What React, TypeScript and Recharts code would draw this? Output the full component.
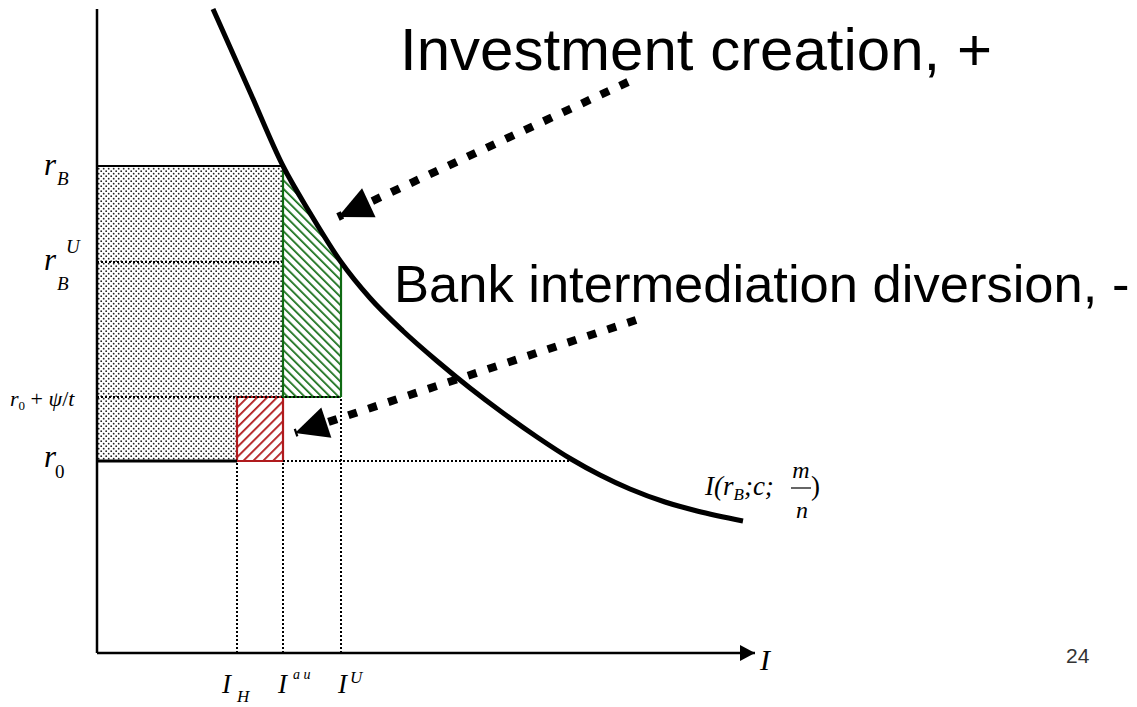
import { ComposedChart, XAxis, YAxis, Line, Area, ReferenceArea, ReferenceLine, ReferenceDot } from 'recharts';

// Investment schedule I(r_B; c; m/n) (I across, r up)
const curvePoints = [
  { I: 116, r: 644 }, { I: 153, r: 561 }, { I: 186, r: 487 }, { I: 213, r: 440 },
  { I: 244, r: 391 }, { I: 273, r: 355 }, { I: 306, r: 322 }, { I: 340, r: 292 },
  { I: 373, r: 265 }, { I: 406, r: 240 }, { I: 440, r: 216 }, { I: 474, r: 194 },
  { I: 503, r: 178 }, { I: 533, r: 164 }, { I: 568, r: 151 }, { I: 600, r: 142 },
  { I: 646, r: 132 },
];

// Rate levels on the vertical axis
const rateTicks = [192, 256, 391, 487];
const rateNames = ['r0', 'r0+psi/t', 'rBU', 'rB'];

// Investment levels on the horizontal axis
const investTicks = [140, 186, 244];
const investNames = ['IH', 'Iau', 'IU'];

// Green wedge: between r0 + psi/t and the curve, from I^au to I^U
const creationZone = [
  { I: 186, lo: 256, hi: 487 },
  { I: 213, lo: 256, hi: 440 },
  { I: 244, lo: 256, hi: 391 },
];

// Thick dashed arrows (start, tip)
const arrowCreation = [{ I: 531, r: 571 }, { I: 241, r: 436 }];
const arrowDiversion = [{ I: 539, r: 333 }, { I: 198, r: 220 }];
const axisArrow = [{ I: 0, r: 0 }, { I: 658, r: 0 }];

// Dotted guide lines
const dottedRates = [
  { r: 391, from: 0, to: 186 },
  { r: 256, from: 0, to: 244 },
  { r: 192, from: 186, to: 476 },
];
const dottedInvest = [
  { I: 140, top: 192 },
  { I: 186, top: 192 },
  { I: 244, top: 256 },
];

const notes = ['Investment creation, +', 'Bank intermediation diversion, -'];

const serif = '"Liberation Serif", "Times New Roman", serif';
const sans = '"Liberation Sans", Arial, sans-serif';
const GREEN = '#0f6a12';
const RED = '#b01a1d';

// arrowhead drawn on the last point of a two-point line
const arrowDot = (pts: any[], len: number, half: number) => (props: any) => {
  const { cx, cy, index } = props;
  if (index !== pts.length - 1) return <g key={`a-${index}`} />;
  let dx = pts[index].I - pts[index - 1].I;
  let dy = -(pts[index].r - pts[index - 1].r);
  if (props.points && props.points[index - 1]) {
    dx = cx - props.points[index - 1].x;
    dy = cy - props.points[index - 1].y;
  }
  const l = Math.hypot(dx, dy);
  const ux = dx / l, uy = dy / l;
  const bx = cx - ux * len, by = cy - uy * len;
  return (
    <polygon
      key={`a-${index}`}
      points={`${cx},${cy} ${bx - uy * half},${by + ux * half} ${bx + uy * half},${by - ux * half}`}
      fill="#000"
    />
  );
};

const it = { fontFamily: serif, fontStyle: 'italic', fill: '#000' } as const;
const up = { fontFamily: serif, fill: '#000' } as const;

const RateTick = (props: any) => {
  const { y, payload } = props;
  const name = rateNames[rateTicks.indexOf(payload.value)];
  if (name === 'rB') {
    return (
      <g>
        <text x={44} y={y + 9} fontSize={31} {...it}>r</text>
        <text x={57} y={y + 19} fontSize={19} {...it}>B</text>
      </g>
    );
  }
  if (name === 'rBU') {
    return (
      <g>
        <text x={44} y={y + 8} fontSize={31} {...it}>r</text>
        <text x={66} y={y - 9} fontSize={19} {...it}>U</text>
        <text x={57} y={y + 28} fontSize={19} {...it}>B</text>
      </g>
    );
  }
  if (name === 'r0+psi/t') {
    return (
      <text x={10} y={y + 9} fontSize={22} {...up}>
        <tspan fontStyle="italic">r</tspan>
        <tspan fontSize={13} dy={4}>0</tspan>
        <tspan dy={-4}> + </tspan>
        <tspan fontStyle="italic">ψ</tspan>
        <tspan>/</tspan>
        <tspan fontStyle="italic">t</tspan>
      </text>
    );
  }
  return (
    <g>
      <text x={44} y={y + 6} fontSize={31} {...it}>r</text>
      <text x={55} y={y + 17} fontSize={19} {...up}>0</text>
    </g>
  );
};

const InvestTick = (props: any) => {
  const { x, payload } = props;
  const name = investNames[investTicks.indexOf(payload.value)];
  if (name === 'IH') {
    return (
      <g>
        <text x={x - 15} y={693} fontSize={27} {...it}>I</text>
        <text x={x} y={702} fontSize={17} {...it}>H</text>
      </g>
    );
  }
  if (name === 'Iau') {
    return (
      <g>
        <text x={x - 5} y={693} fontSize={27} {...it}>I</text>
        <text x={x + 10} y={679} fontSize={14} {...it}>a u</text>
      </g>
    );
  }
  return (
    <g>
      <text x={x - 3} y={693} fontSize={27} {...it}>I</text>
      <text x={x + 9} y={683} fontSize={17} {...it}>U</text>
    </g>
  );
};

export default function App() {
  return (
    <div style={{ position: 'absolute', left: 0, top: 0, width: 1137, height: 707, background: '#fff' }}>
      <ComposedChart width={1137} height={707} margin={{ top: 9, right: 0, bottom: 0, left: 0 }}>
        <defs>
          <pattern id="dots" width="5" height="5" patternUnits="userSpaceOnUse">
            <rect width="5" height="5" fill="#fff" />
            <circle cx="1.2" cy="1.2" r="0.9" fill="#222" />
            <circle cx="3.7" cy="3.7" r="0.9" fill="#222" />
          </pattern>
          <pattern id="greenHatch" width="6" height="6" patternUnits="userSpaceOnUse" patternTransform="rotate(-45)">
            <rect width="6" height="6" fill="#fff" />
            <line x1="0" y1="0" x2="0" y2="6" stroke={GREEN} strokeWidth="3.4" />
          </pattern>
          <pattern id="redHatch" width="7" height="7" patternUnits="userSpaceOnUse" patternTransform="rotate(45)">
            <rect width="7" height="7" fill="#fff" />
            <line x1="0" y1="0" x2="0" y2="7" stroke={RED} strokeWidth="3.6" />
          </pattern>
        </defs>

        <XAxis
          type="number"
          dataKey="I"
          domain={[0, 1040]}
          ticks={investTicks}
          interval={0}
          height={54}
          axisLine={false}
          tickLine={false}
          tickSize={0}
          tick={(p: any) => <InvestTick {...p} />}
        />
        <YAxis
          type="number"
          domain={[0, 644]}
          ticks={rateTicks}
          interval={0}
          width={97}
          axisLine={{ stroke: '#000', strokeWidth: 2.5 }}
          tickLine={false}
          tickSize={0}
          tick={(p: any) => <RateTick {...p} />}
        />

        {/* stippled rectangle below r_B */}
        <ReferenceArea x1={0} x2={186} y1={192} y2={487} fill="url(#dots)" fillOpacity={1} stroke="none" />
        {/* red hatched square: diversion */}
        <ReferenceArea x1={140} x2={186} y1={192} y2={256} fill="url(#redHatch)" fillOpacity={1} stroke={RED} strokeWidth={2.2} />

        {dottedRates.map((d, i) => (
          <ReferenceLine key={`hr-${i}`} segment={[{ x: d.from, y: d.r }, { x: d.to, y: d.r }]} stroke="#000" strokeWidth={2} strokeDasharray="2 2" />
        ))}
        {dottedInvest.map((d, i) => (
          <ReferenceLine key={`vi-${i}`} segment={[{ x: d.I, y: 0 }, { x: d.I, y: d.top }]} stroke="#000" strokeWidth={2} strokeDasharray="2 2" />
        ))}

        {/* green hatched wedge: investment creation */}
        <Area
          data={creationZone}
          dataKey={(d: any) => [d.lo, d.hi]}
          type="monotone"
          fill="url(#greenHatch)"
          fillOpacity={1}
          stroke={GREEN}
          strokeWidth={2.2}
          dot={false}
          activeDot={false}
          isAnimationActive={false}
        />
        <ReferenceLine segment={[{ x: 186, y: 256 }, { x: 186, y: 487 }]} stroke={GREEN} strokeWidth={2.2} />
        <ReferenceLine segment={[{ x: 244, y: 256 }, { x: 244, y: 391 }]} stroke={GREEN} strokeWidth={2.2} />

        {/* solid edges at r_B and r_0 */}
        <ReferenceLine segment={[{ x: 0, y: 487 }, { x: 186, y: 487 }]} stroke="#000" strokeWidth={2.2} />
        <ReferenceLine segment={[{ x: 0, y: 192 }, { x: 140, y: 192 }]} stroke="#000" strokeWidth={3} />

        <Line
          data={curvePoints}
          dataKey="r"
          type="monotone"
          stroke="#000"
          strokeWidth={5}
          dot={false}
          activeDot={false}
          isAnimationActive={false}
        />

        <Line
          data={axisArrow}
          dataKey="r"
          type="linear"
          stroke="#000"
          strokeWidth={2.5}
          dot={arrowDot(axisArrow, 15, 8)}
          activeDot={false}
          isAnimationActive={false}
        />
        <Line
          data={arrowCreation}
          dataKey="r"
          type="linear"
          stroke="#000"
          strokeWidth={8}
          strokeDasharray="9 12"
          dot={arrowDot(arrowCreation, 34, 16)}
          activeDot={false}
          isAnimationActive={false}
        />
        <Line
          data={arrowDiversion}
          dataKey="r"
          type="linear"
          stroke="#000"
          strokeWidth={8}
          strokeDasharray="9 12"
          dot={arrowDot(arrowDiversion, 33, 16)}
          activeDot={false}
          isAnimationActive={false}
        />

        <ReferenceDot
          x={303}
          y={583}
          r={0}
          shape={(p: any) => (
            <text x={p.cx} y={p.cy} fontSize={60} fontFamily={sans} fill="#000">{notes[0]}</text>
          )}
        />
        <ReferenceDot
          x={297}
          y={351}
          r={0}
          shape={(p: any) => (
            <text x={p.cx} y={p.cy} fontSize={52.5} fontFamily={sans} fill="#000">{notes[1]}</text>
          )}
        />
        <ReferenceDot
          x={608}
          y={158}
          r={0}
          shape={(p: any) => (
            <g>
              <text x={p.cx} y={p.cy} fontSize={27} {...it}>
                I(r<tspan fontSize={17} dy={5}>B</tspan>
                <tspan dy={-5}>;c;</tspan>
              </text>
              <text x={p.cx + 96} y={p.cy - 17} fontSize={24} textAnchor="middle" {...it}>m</text>
              <line x1={p.cx + 86} x2={p.cx + 106} y1={p.cy - 7} y2={p.cy - 7} stroke="#000" strokeWidth={1.2} />
              <text x={p.cx + 97} y={p.cy + 23} fontSize={24} textAnchor="middle" {...it}>n</text>
              <text x={p.cx + 106} y={p.cy} fontSize={27} {...up}>)</text>
            </g>
          )}
        />
        <ReferenceDot
          x={663}
          y={0}
          r={0}
          ifOverflow="visible"
          shape={(p: any) => <text x={p.cx} y={p.cy + 17} fontSize={30} {...it}>I</text>}
        />
        <ReferenceDot
          x={969}
          y={0}
          r={0}
          ifOverflow="visible"
          shape={(p: any) => <text x={p.cx} y={p.cy + 10} fontSize={21} fontFamily={sans} fill="#333">24</text>}
        />
      </ComposedChart>
    </div>
  );
}
